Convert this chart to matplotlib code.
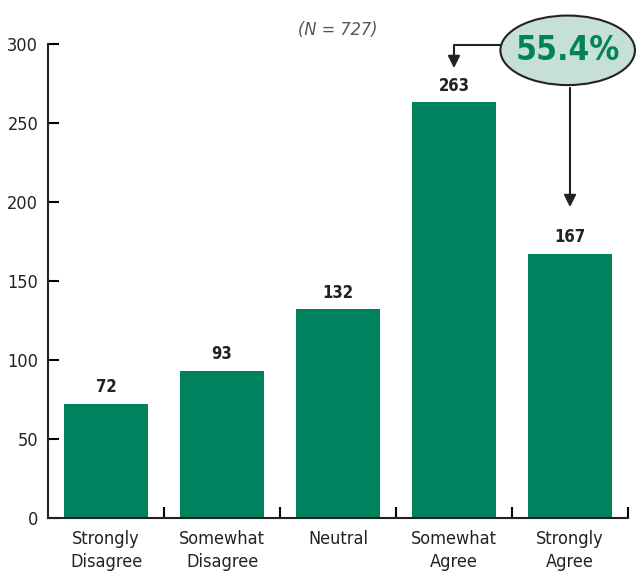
import matplotlib.pyplot as plt
from matplotlib.patches import Ellipse
import numpy as np

categories = ["Strongly\nDisagree", "Somewhat\nDisagree", "Neutral", "Somewhat\nAgree", "Strongly\nAgree"]
counts = [72, 93, 132, 263, 167]
yticks = [0, 50, 100, 150, 200, 250, 300]
n_label = "(N = 727)"
pct_label = "55.4%"

green = '#00825f'
plt.rcParams['font.family'] = ['DejaVu Sans']
plt.rcParams['font.stretch'] = 'condensed'

fig = plt.figure(figsize=(6.36, 5.71), dpi=100)
ax = fig.add_axes([48 / 636, 1 - 518 / 571, 580 / 636, 474 / 571])

x = np.arange(len(categories))
ax.bar(x, counts, width=0.724, color=green, zorder=2)
for xi, c in zip(x, counts):
    ax.text(xi, c + 5, str(c), ha='center', va='bottom', fontsize=12,
            fontweight='bold', color='#222222')

ax.set_xlim(-0.5, 4.5)
ax.set_ylim(0, 300)
ax.set_yticks(yticks)
ax.set_yticklabels([str(v) for v in yticks], fontsize=13, color='#222222')
ax.tick_params(axis='y', direction='in', length=8, width=1.5, pad=7)

# category labels without ticks; boundary ticks pointing up
ax.set_xticks(x)
ax.set_xticklabels(categories, fontsize=13, color='#222222', linespacing=1.3)
ax.tick_params(axis='x', length=0, pad=9)
ax.set_xticks(np.arange(len(categories)) + 0.5, minor=True)
ax.tick_params(axis='x', which='minor', direction='in', length=8, width=1.5)

for s in ['top', 'right']:
    ax.spines[s].set_visible(False)
for s in ['left', 'bottom']:
    ax.spines[s].set_linewidth(1.5)
    ax.spines[s].set_color('#222222')

ax.text(2.0, 309, n_label, ha='center', va='center', fontsize=13,
        style='italic', color='#555555', clip_on=False)

# callout ellipse
ell = Ellipse((3.98, 296), 1.16, 44, facecolor='#c6e0d5', edgecolor='#222222',
              linewidth=1.5, clip_on=False, zorder=4)
ax.add_patch(ell)
ax.text(3.98, 296, pct_label, ha='center', va='center', fontsize=24,
        fontweight='bold', color=green, zorder=5, clip_on=False)

# arrows
ax.plot([3.40, 3.0, 3.0], [299.5, 299.5, 292], color='#222222', lw=1.5,
        clip_on=False, zorder=3)
ax.annotate('', xy=(3.0, 283), xytext=(3.0, 293),
            arrowprops=dict(arrowstyle='-|>', color='#222222', lw=1.5,
                            mutation_scale=18), annotation_clip=False)
ax.annotate('', xy=(4.0, 195), xytext=(4.0, 274),
            arrowprops=dict(arrowstyle='-|>', color='#222222', lw=1.5,
                            mutation_scale=18), annotation_clip=False)

fig.savefig('out.png', dpi=100)
